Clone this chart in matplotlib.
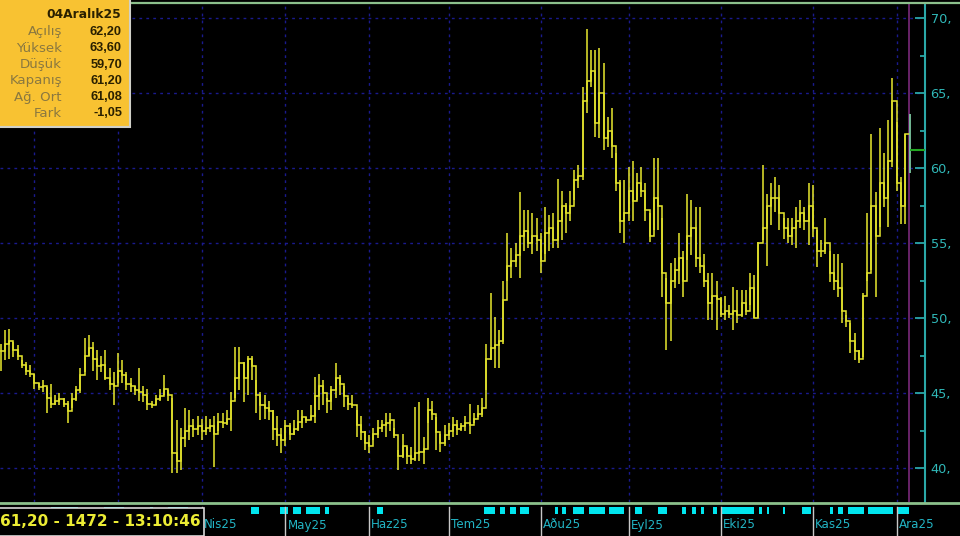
import numpy as np
import matplotlib
matplotlib.use("Agg")
import matplotlib.pyplot as plt
from matplotlib.patches import Rectangle

# ---------------- data ----------------
high = [48.3, 49.2, 49.3, 48.4, 48.2, 47.2, 47.1, 46.9, 46.3, 45.7, 45.9, 45.4, 45.6, 44.9, 45.0, 44.7,
        44.5, 45.0, 45.5, 46.7, 48.7, 48.9, 48.4, 47.9, 47.5, 47.9, 46.7, 46.4, 47.7, 47.2, 46.4, 46.0,
        45.5, 46.7, 45.5, 45.3, 44.5, 44.9, 45.3, 46.2, 45.2, 44.7, 43.2, 42.7, 44.0, 43.9, 43.3, 43.5,
        43.3, 43.5, 43.3, 43.5, 43.7, 43.7, 43.9, 45.1, 48.1, 48.1, 47.1, 47.5, 47.5, 45.9, 45.1, 44.9,
        44.5, 43.9, 43.5, 42.7, 43.2, 43.0, 43.2, 43.9, 43.9, 43.4, 44.2, 46.1, 46.3, 45.9, 44.7, 45.5,
        47.0, 46.2, 45.5, 44.7, 44.9, 43.9, 43.5, 42.5, 42.2, 42.7, 43.2, 43.2, 43.7, 43.7, 42.7, 41.2,
        42.3, 41.4, 41.4, 44.1, 44.4, 42.1, 44.7, 44.5, 43.4, 42.3, 42.9, 43.0, 43.4, 43.2, 43.0, 43.5,
        44.3, 43.7, 44.2, 44.7, 48.3, 51.7, 50.1, 49.2, 52.5, 55.7, 54.7, 55.0, 58.4, 57.2, 57.2, 57.0,
        56.7, 55.7, 57.4, 56.9, 57.0, 59.3, 58.5, 57.7, 58.5, 59.9, 60.2, 65.4, 69.3, 67.9, 67.9, 68.0,
        67.0, 63.4, 64.0, 61.0, 59.2, 59.2, 60.1, 60.5, 59.7, 60.1, 59.0, 57.0, 60.7, 60.7, 56.7, 52.7,
        53.7, 54.0, 55.7, 54.5, 58.3, 57.9, 57.4, 57.4, 54.3, 53.0, 53.0, 52.5, 51.4, 51.5, 50.9, 52.1,
        51.9, 51.9, 51.9, 53.0, 52.9, 55.1, 60.2, 58.3, 59.0, 59.4, 58.9, 56.7, 56.7, 56.7, 57.4, 57.9,
        57.4, 59.0, 58.9, 55.9, 55.2, 56.7, 54.5, 54.3, 54.3, 53.7, 50.2, 49.7, 49.0, 47.9, 51.7, 57.0,
        62.3, 58.4, 62.7, 61.0, 63.2, 66.0, 63.1, 59.4, 62.3, 63.6]
low = [46.5, 47.2, 47.3, 47.4, 47.2, 46.7, 46.2, 46.1, 45.3, 45.2, 45.1, 43.7, 44.0, 44.2, 44.2, 44.1,
       43.0, 44.0, 44.5, 45.0, 46.4, 47.5, 46.5, 45.9, 46.4, 45.9, 45.2, 44.2, 45.7, 45.7, 45.2, 45.1,
       44.9, 44.5, 44.4, 43.9, 44.0, 44.2, 44.5, 44.9, 44.5, 39.7, 39.7, 39.9, 41.4, 41.9, 42.1, 42.2,
       41.9, 42.2, 42.4, 40.1, 42.5, 42.7, 42.9, 42.5, 44.7, 45.2, 44.4, 44.9, 45.9, 43.7, 43.2, 43.3,
       43.2, 41.9, 41.5, 41.0, 41.5, 41.9, 42.2, 42.5, 42.7, 43.0, 43.2, 43.0, 43.9, 44.2, 43.7, 43.9,
       44.7, 44.9, 44.1, 43.9, 44.0, 42.1, 41.9, 41.2, 41.0, 41.9, 42.0, 42.4, 42.1, 42.5, 42.0, 39.9,
       40.7, 40.3, 40.3, 40.5, 40.5, 40.3, 43.0, 43.2, 41.2, 41.1, 41.5, 41.9, 42.1, 42.2, 42.5, 42.5,
       42.3, 43.0, 43.4, 43.4, 45.2, 47.2, 46.7, 46.7, 48.3, 52.5, 52.7, 53.4, 52.7, 54.5, 54.7, 54.3,
       54.5, 53.0, 54.3, 54.5, 54.7, 54.7, 55.2, 55.7, 56.5, 57.9, 58.7, 59.2, 63.7, 65.4, 62.1, 62.0,
       61.2, 61.4, 60.7, 58.5, 55.7, 55.0, 56.5, 56.5, 57.9, 58.1, 56.5, 55.1, 55.9, 55.9, 51.4, 47.9,
       48.5, 52.0, 52.3, 51.4, 53.9, 54.2, 53.4, 53.0, 52.1, 49.9, 49.9, 49.2, 50.1, 49.9, 50.0, 49.2,
       49.7, 50.1, 50.2, 50.9, 50.0, 50.0, 55.2, 53.5, 56.2, 57.1, 55.9, 55.3, 55.0, 54.9, 54.7, 56.0,
       55.9, 54.9, 55.4, 53.4, 54.1, 54.3, 52.4, 51.9, 51.4, 49.7, 49.4, 47.7, 47.2, 47.0, 47.4, 52.5,
       53.2, 51.4, 56.1, 57.4, 56.1, 60.1, 58.5, 56.3, 56.3, 59.7]
close = [47.8, 48.3, 48.5, 47.9, 47.5, 46.9, 46.5, 46.3, 45.7, 45.4, 45.5, 44.7, 44.3, 44.5, 44.6, 44.3,
         43.8, 44.6, 45.2, 46.2, 47.5, 48.0, 47.3, 46.8, 46.9, 46.0, 45.6, 45.5, 46.5, 46.2, 45.6, 45.5,
         45.2, 45.1, 44.9, 44.3, 44.2, 44.6, 44.8, 45.3, 44.9, 41.0, 40.5, 42.0, 42.5, 42.8, 42.6, 42.8,
         42.5, 42.7, 42.8, 42.3, 43.1, 43.0, 43.3, 44.5, 46.0, 47.0, 46.0, 47.3, 46.8, 44.9, 44.2, 44.0,
         43.8, 42.6, 42.2, 41.9, 42.8, 42.3, 42.6, 43.1, 43.4, 43.2, 43.5, 44.8, 45.5, 45.0, 44.5, 45.2,
         46.0, 45.6, 44.8, 44.3, 44.2, 42.9, 42.4, 41.7, 41.5, 42.3, 42.7, 42.9, 43.0, 43.2, 42.2, 40.8,
         41.5, 40.8, 40.6, 41.0, 41.1, 41.3, 43.9, 43.6, 42.4, 41.7, 42.2, 42.5, 42.9, 42.6, 42.8, 43.0,
         42.9, 43.3, 43.6, 44.0, 47.3, 48.0, 48.2, 48.5, 51.2, 53.5, 53.8, 54.2, 55.5, 55.8, 55.0, 55.5,
         55.2, 53.8, 55.7, 56.0, 55.2, 56.5, 57.5, 57.0, 57.5, 59.2, 59.5, 64.5, 65.8, 66.5, 63.0, 65.0,
         62.0, 62.5, 61.5, 59.0, 56.5, 57.0, 58.5, 57.8, 59.0, 58.5, 57.2, 55.5, 58.0, 57.5, 53.0, 51.0,
         52.5, 53.2, 54.0, 52.5, 55.5, 56.0, 54.0, 53.5, 52.5, 51.0, 51.5, 51.3, 50.3, 50.5, 50.3, 50.5,
         50.2, 51.0, 50.5, 52.0, 50.0, 55.0, 56.0, 57.5, 58.0, 58.0, 57.0, 56.0, 55.5, 56.0, 56.5, 57.0,
         56.5, 57.5, 56.0, 54.5, 54.5, 55.0, 53.0, 52.5, 52.0, 50.5, 49.8, 48.5, 47.8, 47.3, 51.5, 53.0,
         57.5, 55.5, 59.0, 58.0, 60.5, 64.5, 59.0, 57.5, 62.25, 61.2]

# month starts (bar index) and labels
month_idx = [8, 28, 48, 68, 88, 107, 129, 150, 172, 194, 214]
label_idx = [48, 68, 88, 107, 129, 150, 172, 194, 214]
month_labels = ["Nis25", "May25", "Haz25", "Tem25", "Aðu25", "Eyl25", "Eki25", "Kas25", "Ara25"]
y_ticks = [40, 45, 50, 55, 60, 65, 70]
y_tick_labels = ["40,", "45,", "50,", "55,", "60,", "65,", "70,"]

# event markers in the bottom strip (start bar, length in bars)
marker_spans = [(12.0, 6.5), (24.7, 4.7), (35.6, 0.8), (39.9, 4.8),
                (59.7, 1.9), (66.8, 1.7), (69.7, 1.9), (72.8, 3.5), (77.5, 0.8), (89.9, 1.4),
                (115.4, 2.6), (119.2, 1.2), (121.6, 1.6), (124.0, 2.3), (132.3, 0.9), (134.0, 1.1),
                (136.6, 2.8), (140.6, 3.8), (145.4, 3.5), (151.6, 1.6), (157.0, 2.2), (162.8, 0.9),
                (165.1, 1.0), (167.3, 0.6), (170.1, 1.0), (172.3, 7.6), (181.1, 0.7), (183.0, 0.6),
                (186.8, 0.6), (191.3, 2.2), (198.2, 0.7), (200.1, 1.0), (202.3, 4.0), (207.3, 5.9),
                (214.4, 2.6)]

info_title = "04Aralık25"
info_labels = ["Açılış", "Yüksek", "Düşük", "Kapanış", "Ağ. Ort", "Fark"]
info_values = ["62,20", "63,60", "59,70", "61,20", "61,08", "-1,05"]
status_text = "61,20 - 1472 - 13:10:46"

# ---------------- figure ----------------
W, H = 960, 536
fig = plt.figure(figsize=(W / 100, H / 100), dpi=100, facecolor="black")

def fx(px):
    return px / W

def fy(py):
    return 1 - py / H

ax_right = 925
ax_top, ax_bot = 4, 502
ax = fig.add_axes([0, fy(ax_bot), fx(ax_right), (ax_bot - ax_top) / H])
ax.set_facecolor("black")
n = len(close)
idx = np.arange(n)
XMIN, XMAX = -0.2, 220.8
ax.set_xlim(XMIN, XMAX)
ax.set_ylim(70 - (ax_bot - 18) / 15, 70 + (18 - ax_top) / 15)

grid_col = "#1a1a8e"
for v in y_ticks:
    ax.axhline(v, color=grid_col, lw=1.0, dashes=(2, 3), zorder=1)
for m in month_idx:
    ax.axvline(m, color=grid_col, lw=1.0, dashes=(2, 3), zorder=1)

bar_col = "#e0e02c"
hi = np.array(high)
lo = np.array(low)
cl = np.array(close)
ax.vlines(idx[:-1], lo[:-1], hi[:-1], color=bar_col, lw=1.15, zorder=3)
xs = np.column_stack([idx[:-1], idx[:-1] + 1]).ravel()
ys = np.repeat(cl[:-1], 2)
ax.plot(xs, ys, color=bar_col, lw=1.15, zorder=3, solid_joinstyle="miter")

# current bar marker
ax.axvline(idx[-1], color="#7a2a7a", lw=1.2, zorder=2)
ax.vlines(idx[-1] + 0.3, lo[-1], hi[-1], color="#7cc8a0", lw=1.3, zorder=4)
ax.hlines(cl[-1], idx[-1] + 0.3, XMAX, color="#22a822", lw=1.5, zorder=4)

for s in ["top", "left", "bottom"]:
    ax.spines[s].set_visible(False)
ax.spines["right"].set_color("#2aa8a8")
ax.spines["right"].set_linewidth(1.5)
ax.yaxis.tick_right()
ax.set_yticks(y_ticks)
ax.set_yticklabels(y_tick_labels)
ax.set_yticks([v + 2.5 for v in y_ticks[:-1]], minor=True)
ax.tick_params(axis="y", which="major", direction="in", length=7, width=1.3,
               color="#2aa8a8", labelcolor="#30b8b8", labelsize=9.3, pad=4)
ax.tick_params(axis="y", which="minor", direction="in", length=3.5, width=1.3, color="#2aa8a8")
ax.set_xticks([])

# top & bottom green frame lines
fig.add_artist(plt.Line2D([0, 1], [fy(3), fy(3)], color="#8cc08c", lw=1.6))
fig.add_artist(plt.Line2D([0, 1], [fy(502.5), fy(502.5)], color="#8cc08c", lw=2.0))

# ---------------- bottom strip ----------------
ax2 = fig.add_axes([0, 0, fx(ax_right), (H - 504) / H], sharex=ax)
ax2.set_facecolor("black")
ax2.set_ylim(0, H - 504)
ax2.axis("off")
ax2.set_xlim(XMIN, XMAX)
ax2.broken_barh(marker_spans, (536 - 514, 7), facecolors="#00e5ee", zorder=2)
for m in label_idx:
    ax2.plot([m, m], [0, 29], color="#c8c8c8", lw=1.0, zorder=3, clip_on=False)
for m, lab in zip(label_idx, month_labels):
    ax2.text(m + 0.5, 536 - 525, lab, color="#22b4c4", fontsize=8.6,
             ha="left", va="center", clip_on=False, zorder=3)

# status box (text runs past the left edge, as in the source terminal)
fig.add_artist(Rectangle((fx(-2), fy(536)), fx(206), (536 - 508) / H, transform=fig.transFigure,
                         facecolor="black", edgecolor="#d8d8d8", lw=1.2, zorder=5))
fig.text(fx(201), fy(522), status_text, color="#ecec34", fontsize=11.0, fontweight="bold",
         ha="right", va="center", zorder=6)

# ---------------- info box ----------------
fig.add_artist(Rectangle((fx(-2), fy(127)), fx(132), 129 / H, transform=fig.transFigure,
                         facecolor="#f8c232", edgecolor="#d0d0c8", lw=1.5, zorder=5))
fig.text(fx(84), fy(14), info_title, color="#2a2000", fontsize=8.8, fontweight="bold",
         ha="center", va="center", zorder=6)
for k, (lab, val) in enumerate(zip(info_labels, info_values)):
    yy = 32 + k * 16.3
    fig.text(fx(62), fy(yy), lab, color="#8a7840", fontsize=9.6, ha="right", va="center", zorder=6)
    fig.text(fx(122), fy(yy), val, color="#2a2000", fontsize=9.2, fontweight="bold",
             family=["Liberation Sans", "DejaVu Sans"], ha="right", va="center", zorder=6)

fig.savefig("out.png", dpi=100, facecolor="black")
